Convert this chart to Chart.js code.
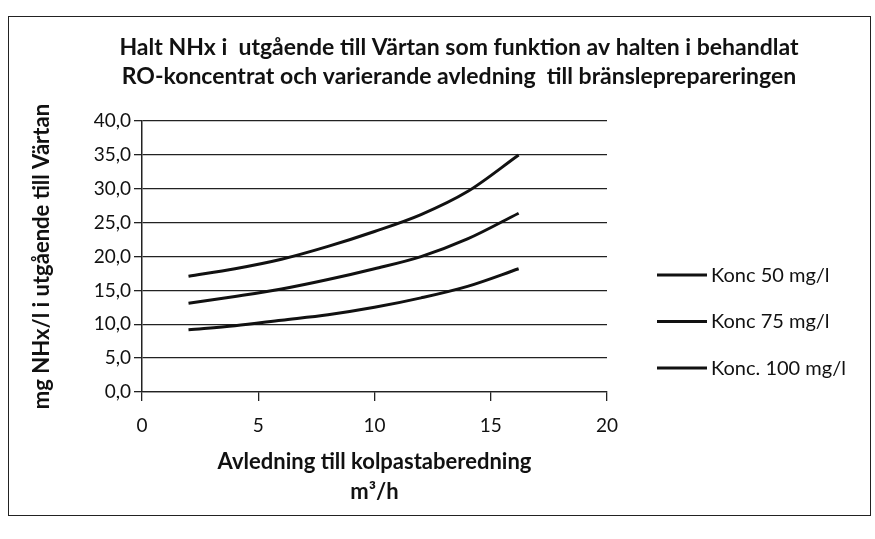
<!DOCTYPE html>
<html>
<head>
<meta charset="utf-8">
<script src="https://cdn.jsdelivr.net/npm/chart.js@4.4.1/dist/chart.umd.min.js"></script>
<style>
  html, body { margin: 0; padding: 0; background: #fff; overflow: hidden; }
  #frame { position: absolute; left: 8px; top: 16px; width: 861px; height: 498px; border: 1.5px solid #222; }
  #wrap { position: absolute; left: 0; top: 0; width: 918px; height: 539px; }
</style>
</head>
<body>
<div id="frame"></div>
<div id="wrap"><canvas id="chart"></canvas></div>
<script>
// avledning m3/h
var avledning = [2, 4, 6, 8, 10, 12, 14, 16.2];
// mg NHx/l
var konc50 = [9.2, 9.8, 10.6, 11.4, 12.5, 13.9, 15.6, 18.2];
var konc75 = [13.1, 14.1, 15.2, 16.6, 18.2, 20.0, 22.6, 26.4];
var konc100 = [17.1, 18.2, 19.6, 21.5, 23.7, 26.2, 29.6, 35.0];
var seriesNames = ['Konc 50 mg/l', 'Konc 75 mg/l', 'Konc. 100 mg/l'];
var xTicks = [0, 5, 10, 15, 20];
var yTicks = [0, 5, 10, 15, 20, 25, 30, 35, 40];

var FONT = 'Lato, "Open Sans", sans-serif';

function points(ys) {
	return avledning.map(function(x, i) { return {x: x, y: ys[i]}; });
}

var legendPlugin = {
	id: 'sideLegend',
	afterDraw: function(chart) {
		var ctx = chart.ctx;
		var a = chart.chartArea;
		ctx.save();
		ctx.font = '20px ' + FONT;
		ctx.fillStyle = '#111';
		ctx.strokeStyle = '#111';
		ctx.lineWidth = 3;
		ctx.textBaseline = 'middle';
		chart.data.datasets.forEach(function(ds, i) {
			var y = a.top + 154 + i * 46.5;
			var x0 = a.right + 50;
			ctx.beginPath();
			ctx.moveTo(x0, y);
			ctx.lineTo(x0 + 50, y);
			ctx.stroke();
			ctx.fillText(ds.label, x0 + 54, y);
		});
		ctx.restore();
	}
};

var datasets = [konc50, konc75, konc100].map(function(s, i) {
	return {
		label: seriesNames[i],
		data: points(s),
		borderColor: '#111',
		borderWidth: 3,
		pointRadius: 0,
		cubicInterpolationMode: 'monotone',
		fill: false
	};
});

const ctx = document.getElementById('chart').getContext('2d');
const myChart = new Chart(ctx, {
	type: 'line',
	data: { datasets: datasets },
	plugins: [legendPlugin],
	options: {
		responsive: true,
		maintainAspectRatio: false,
		animation: false,
		layout: { padding: 0 },
		plugins: {
			legend: { display: false },
			tooltip: { enabled: false },
			title: {
				display: true,
				text: ['Halt NHx i  utgående till Värtan som funktion av halten i behandlat',
					'RO-koncentrat och varierande avledning  till bränslepreparering\u200Ben'.replace('\u200B', '')],
				color: '#111',
				font: { family: FONT, size: 23, weight: 'bold', lineHeight: 1.22 },
				padding: { top: 34, bottom: 31 }
			}
		},
		scales: {
			x: {
				type: 'linear',
				min: 0,
				max: 20,
				afterBuildTicks: function(s) { s.ticks = xTicks.map(function(v) { return {value: v}; }); },
				afterFit: function(s) { s.height = 147; },
				grid: { drawOnChartArea: false, drawTicks: true, tickLength: 9, color: '#222', lineWidth: 1.3 },
				border: { display: true, color: '#222', width: 1.3 },
				ticks: { color: '#111', font: { family: FONT, size: 19 }, padding: 13 },
				title: {
					display: true,
					text: ['Avledning till kolpastaberedning', 'm³/h'],
					color: '#111',
					font: { family: FONT, size: 22, weight: 'bold', lineHeight: 1.36 },
					padding: { top: 0, bottom: 32 }
				}
			},
			y: {
				min: 0,
				max: 40,
				afterBuildTicks: function(s) { s.ticks = yTicks.map(function(v) { return {value: v}; }); },
				afterFit: function(s) { s.width = 142; },
				grid: { drawTicks: true, tickLength: 8, color: '#222', lineWidth: 1.3 },
				border: { display: true, color: '#222', width: 1.5 },
				ticks: {
					color: '#111',
					font: { family: FONT, size: 19 },
					padding: 3,
					callback: function(v) { return v.toFixed(1).replace('.', ','); }
				},
				title: {
					display: true,
					text: 'mg NHx/l i utgående till Värtan',
					color: '#111',
					font: { family: FONT, size: 22, weight: 'bold', lineHeight: 1.2 },
					padding: { top: 29, bottom: 0 }
				}
			},
			spacer: {
				type: 'linear',
				position: 'right',
				display: true,
				afterFit: function(s) { s.width = 311; },
				grid: { display: false },
				border: { display: false },
				ticks: { display: false }
			}
		}
	}
});
</script>
</body>
</html>
